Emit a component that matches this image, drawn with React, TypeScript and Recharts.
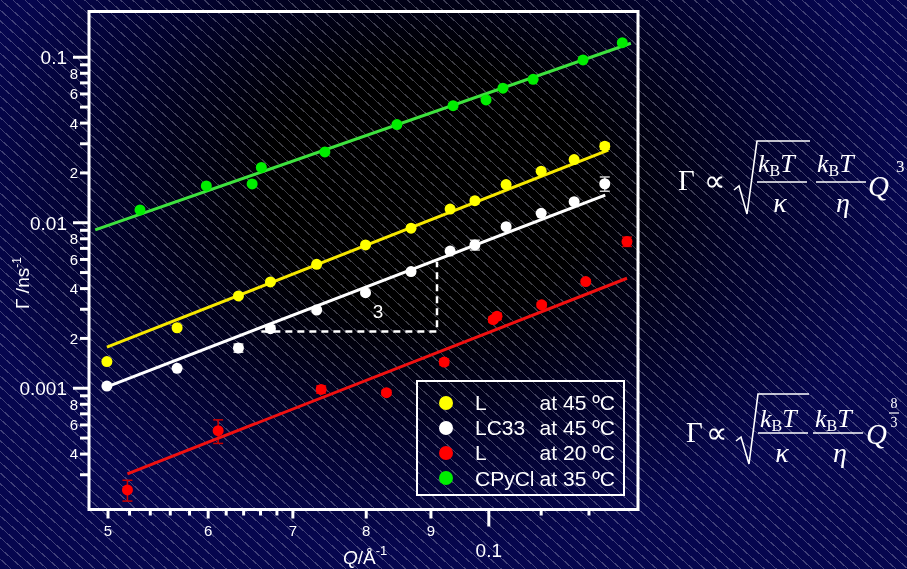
import { ComposedChart, Scatter, XAxis, YAxis, ErrorBar, ReferenceArea } from "recharts";

// axis ranges (log scales)
const Q_MIN = 0.0483;
const Q_MAX = 0.1312;
const G_MIN = 0.000185;
const G_MAX = 0.189;

// L at 45 ºC
const qYellow = [0.0499, 0.0567, 0.0634, 0.0672, 0.0731, 0.0799, 0.0868, 0.0932, 0.0975, 0.1032, 0.11, 0.1168, 0.1235];
const gYellow = [0.00145, 0.00232, 0.00361, 0.00439, 0.00561, 0.00734, 0.00927, 0.0121, 0.0136, 0.017, 0.0205, 0.0241, 0.029];
const errYellow = [0, 0, 0, 0, 0, 0, 0, 0, 0, 0, 0, 0, 0.0012];

// LC33 at 45 ºC
const qWhite = [0.0499, 0.0567, 0.0634, 0.0672, 0.0731, 0.0799, 0.0868, 0.0932, 0.0975, 0.1032, 0.11, 0.1168, 0.1235];
const gWhite = [0.00103, 0.00132, 0.00175, 0.00229, 0.00297, 0.00378, 0.00507, 0.00674, 0.00734, 0.00947, 0.0114, 0.0134, 0.0172];
const errWhite = [0, 0, 0.0001, 0.0001, 0, 0, 0, 0, 0.0005, 0, 0, 0, 0.0017];

// L at 20 ºC
const qRed = [0.0518, 0.0611, 0.0737, 0.083, 0.0922, 0.1008, 0.1015, 0.1101, 0.1193, 0.1286];
const gRed = [0.000243, 0.000554, 0.000983, 0.00094, 0.00144, 0.0026, 0.00272, 0.00319, 0.00441, 0.00769];
const errRed = [0.000035, 0.00009, 0.00005, 0.00003, 0.00006, 0.0001, 0.00012, 0.0001, 0.00012, 0.0005];

// CPyCl at 35 ºC
const qGreen = [0.053, 0.0598, 0.065, 0.0661, 0.0742, 0.0846, 0.0937, 0.0995, 0.1026, 0.1084, 0.1187, 0.1275];
const gGreen = [0.01195, 0.0167, 0.01716, 0.0216, 0.0268, 0.0392, 0.051, 0.0552, 0.065, 0.0736, 0.0963, 0.1225];

// fitted lines, end points
const fitGreenQ = [0.04885, 0.1295];
const fitGreenG = [0.00905, 0.1215];
const fitYellowQ = [0.0499, 0.1243];
const fitYellowG = [0.00177, 0.0275];
const fitWhiteQ = [0.0499, 0.1236];
const fitWhiteG = [0.00102, 0.0147];
const fitRedQ = [0.0518, 0.1286];
const fitRedG = [0.000304, 0.00462];

// slope 3 guide
const slopeQ = [0.0661, 0.091, 0.091];
const slopeG = [0.0022, 0.0022, 0.00582];

const xTicks = [0.05, 0.052, 0.054, 0.056, 0.058, 0.06, 0.062, 0.064, 0.066, 0.068, 0.07, 0.08, 0.09, 0.1, 0.11, 0.12];
const xLabelValues = [0.05, 0.06, 0.07, 0.08, 0.09, 0.1];
const xLabelTexts = ["5", "6", "7", "8", "9", "0.1"];

const yTicks = [
  0.0003, 0.0004, 0.0005, 0.0006, 0.0007, 0.0008, 0.0009,
  0.001, 0.002, 0.003, 0.004, 0.005, 0.006, 0.007, 0.008, 0.009,
  0.01, 0.02, 0.03, 0.04, 0.05, 0.06, 0.07, 0.08, 0.09, 0.1,
];
const yLabelValues = [0.1, 0.08, 0.06, 0.04, 0.02, 0.01, 0.008, 0.006, 0.004, 0.002, 0.001, 0.0008, 0.0006, 0.0004];
const yLabelTexts = ["0.1", "8", "6", "4", "2", "0.01", "8", "6", "4", "2", "0.001", "8", "6", "4"];
const majorValues = [0.1, 0.01, 0.001];

const legendNames = ["L", "LC33", "L", "CPyCl"];
const legendTemps = ["at 45 ºC", "at 45 ºC", "at 20 ºC", "at 35 ºC"];
const legendColors = ["#ffff00", "#ffffff", "#ff0000", "#00ee00"];

const toPoints = (q: number[], g: number[], err?: number[]) =>
  q.map((v, i) => ({ q: v, g: g[i], err: err && err[i] > 0 ? err[i] : null }));

const same = (a: number, b: number) => Math.abs(a - b) / b < 1e-6;
const SANS = "'Liberation Sans', Arial, sans-serif";
const SERIF = "'Liberation Serif', 'Times New Roman', serif";

const YTick = (props: any) => {
  const { x, y, payload } = props;
  const v = payload.value;
  const major = majorValues.some((m) => same(v, m));
  const idx = yLabelValues.findIndex((l) => same(v, l));
  return (
    <g>
      <line x1={x} y1={y} x2={x - (major ? 16 : 9)} y2={y} stroke="#fff" strokeWidth={3} />
      {idx >= 0 && (
        <text
          x={x - (major ? 22 : 11)}
          y={y}
          dy="0.36em"
          textAnchor="end"
          fill="#fff"
          fontSize={major ? 19 : 15}
          fontFamily={SANS}
        >
          {yLabelTexts[idx]}
        </text>
      )}
    </g>
  );
};

const XTick = (props: any) => {
  const { x, y, payload } = props;
  const v = payload.value;
  const major = majorValues.some((m) => same(v, m));
  const idx = xLabelValues.findIndex((l) => same(v, l));
  const len = major ? 17 : idx >= 0 ? 9 : 6;
  return (
    <g>
      <line x1={x} y1={y} x2={x} y2={y + len} stroke="#fff" strokeWidth={3} />
      {idx >= 0 && (
        <text
          x={x}
          y={y + (major ? 47 : 26)}
          textAnchor="middle"
          fill="#fff"
          fontSize={major ? 19 : 15}
          fontFamily={SANS}
        >
          {xLabelTexts[idx]}
        </text>
      )}
    </g>
  );
};

const dot = (color: string) => (p: any) => <circle cx={p.cx} cy={p.cy} r={5.5} fill={color} />;
const noDot = () => <g />;

const App = () => {
  return (
    <div
      style={{
        position: "fixed",
        left: 0,
        top: 0,
        width: 907,
        height: 569,
        overflow: "hidden",
        background:
          "repeating-linear-gradient(42deg, rgba(0,0,0,0) 0px, rgba(0,0,0,0) 7px, rgba(200,200,220,0.3) 7px, rgba(200,200,220,0.3) 8px), radial-gradient(ellipse 470px 360px at 430px 190px, #000 0%, #000 35%, #02022c 70%, #06064e 100%)",
      }}
    >
      <ComposedChart
        width={907}
        height={569}
        margin={{ top: 11.5, right: 269, bottom: 9.5, left: 9 }}
        style={{ position: "absolute", left: 0, top: 0 }}
      >
        <XAxis
          dataKey="q"
          type="number"
          scale="log"
          domain={[Q_MIN, Q_MAX]}
          allowDataOverflow
          ticks={xTicks}
          interval={0}
          tick={(p: any) => <XTick {...p} />}
          tickSize={0}
          tickMargin={0}
          axisLine={false}
          tickLine={false}
          height={50}
        />
        <YAxis
          dataKey="g"
          type="number"
          scale="log"
          domain={[G_MIN, G_MAX]}
          allowDataOverflow
          ticks={yTicks}
          interval={0}
          tick={(p: any) => <YTick {...p} />}
          tickSize={0}
          tickMargin={0}
          axisLine={false}
          tickLine={false}
          width={80}
        />
        <ReferenceArea
          x1={Q_MIN}
          x2={Q_MAX}
          y1={G_MIN}
          y2={G_MAX}
          stroke="#ffffff"
          strokeWidth={3}
          fill="none"
          fillOpacity={0}
          ifOverflow="visible"
        />
        <Scatter
          data={toPoints(slopeQ, slopeG)}
          line={{ stroke: "#ffffff", strokeWidth: 2.5, strokeDasharray: "7 5" }}
          shape={noDot}
          isAnimationActive={false}
        />
        <Scatter data={toPoints(fitGreenQ, fitGreenG)} line={{ stroke: "#3ee23e", strokeWidth: 3 }} shape={noDot} isAnimationActive={false} />
        <Scatter data={toPoints(fitYellowQ, fitYellowG)} line={{ stroke: "#f7e800", strokeWidth: 3 }} shape={noDot} isAnimationActive={false} />
        <Scatter data={toPoints(fitWhiteQ, fitWhiteG)} line={{ stroke: "#ffffff", strokeWidth: 3 }} shape={noDot} isAnimationActive={false} />
        <Scatter data={toPoints(fitRedQ, fitRedG)} line={{ stroke: "#f01010", strokeWidth: 3 }} shape={noDot} isAnimationActive={false} />

        <Scatter data={toPoints(qGreen, gGreen)} shape={dot("#00ee00")} isAnimationActive={false} />
        <Scatter data={toPoints(qYellow, gYellow, errYellow)} shape={dot("#ffff00")} isAnimationActive={false}>
          <ErrorBar dataKey="err" direction="y" width={5} stroke="#e8e000" strokeWidth={1.5} />
        </Scatter>
        <Scatter data={toPoints(qWhite, gWhite, errWhite)} shape={dot("#ffffff")} isAnimationActive={false}>
          <ErrorBar dataKey="err" direction="y" width={5} stroke="#cfcfcf" strokeWidth={1.5} />
        </Scatter>
        <Scatter data={toPoints(qRed, gRed, errRed)} shape={dot("#ff0000")} isAnimationActive={false}>
          <ErrorBar dataKey="err" direction="y" width={5} stroke="#c80000" strokeWidth={1.5} />
        </Scatter>
      </ComposedChart>

      {/* legend */}
      <div
        style={{
          position: "absolute",
          left: 416,
          top: 380,
          width: 209,
          height: 116,
          border: "2px solid #fff",
          boxSizing: "border-box",
          fontFamily: SANS,
          fontSize: 21,
          color: "#fff",
        }}
      >
        {legendNames.map((name, i) => (
          <div
            key={i}
            style={{ position: "absolute", left: 0, top: 8 + i * 25.2, width: 205, height: 25, lineHeight: "25px" }}
          >
            <span
              style={{
                position: "absolute",
                left: 21,
                top: 5.5,
                width: 14,
                height: 14,
                borderRadius: 7,
                background: legendColors[i],
              }}
            />
            <span style={{ position: "absolute", left: 57 }}>{name}</span>
            <span style={{ position: "absolute", right: 8 }}>{legendTemps[i]}</span>
          </div>
        ))}
      </div>

      <svg width={907} height={569} style={{ position: "absolute", left: 0, top: 0, pointerEvents: "none" }}>
        {/* axis titles */}
        <text x={343} y={564} fill="#fff" fontSize={19} fontFamily={SANS}>
          <tspan fontStyle="italic">Q</tspan>
          <tspan>/Å</tspan>
          <tspan fontSize={13} dy={-9}>-1</tspan>
        </text>
        <text transform="translate(29,283) rotate(-90)" textAnchor="middle" fill="#fff" fontSize={19} fontFamily={SANS}>
          <tspan>Γ /ns</tspan>
          <tspan fontSize={12} dy={-8}>-1</tspan>
        </text>
        <text x={378} y={318} textAnchor="middle" fill="#fff" fontSize={19} fontFamily={SANS}>
          3
        </text>

        {/* formula 1 */}
        <g fill="#fff" fontFamily={SERIF}>
          <text x={678} y={190} fontSize={29}>Γ</text>
          <text x={704} y={191} fontSize={30}>∝</text>
          <path d="M734 190 L739 186 L747 214 L757 141 L810 141" stroke="#fff" strokeWidth={1.6} fill="none" />
          <text x={758} y={172} fontSize={26}>
            <tspan fontStyle="italic">k</tspan>
            <tspan fontSize={16} dy={4}>B</tspan>
            <tspan fontStyle="italic" dy={-4}>T</tspan>
          </text>
          <line x1={757} y1={182} x2={807} y2={182} stroke="#fff" strokeWidth={1.6} />
          <text x={780} y={212} fontSize={28} fontStyle="italic" textAnchor="middle">κ</text>
          <text x={817} y={172} fontSize={26}>
            <tspan fontStyle="italic">k</tspan>
            <tspan fontSize={16} dy={4}>B</tspan>
            <tspan fontStyle="italic" dy={-4}>T</tspan>
          </text>
          <line x1={816} y1={182} x2={866} y2={182} stroke="#fff" strokeWidth={1.6} />
          <text x={843} y={212} fontSize={28} fontStyle="italic" textAnchor="middle">η</text>
          <text x={868} y={196} fontSize={29} fontStyle="italic">Q</text>
          <text x={896} y={172} fontSize={17}>3</text>
        </g>

        {/* formula 2 */}
        <g fill="#fff" fontFamily={SERIF}>
          <text x={686} y={442} fontSize={29}>Γ</text>
          <text x={706} y={443} fontSize={30}>∝</text>
          <path d="M736 441 L741 437 L749 464 L758 394 L809 394" stroke="#fff" strokeWidth={1.6} fill="none" />
          <text x={760} y={427} fontSize={26}>
            <tspan fontStyle="italic">k</tspan>
            <tspan fontSize={16} dy={4}>B</tspan>
            <tspan fontStyle="italic" dy={-4}>T</tspan>
          </text>
          <line x1={758} y1={433} x2={808} y2={433} stroke="#fff" strokeWidth={1.6} />
          <text x={782} y={462} fontSize={28} fontStyle="italic" textAnchor="middle">κ</text>
          <text x={815} y={427} fontSize={26}>
            <tspan fontStyle="italic">k</tspan>
            <tspan fontSize={16} dy={4}>B</tspan>
            <tspan fontStyle="italic" dy={-4}>T</tspan>
          </text>
          <line x1={813} y1={433} x2={863} y2={433} stroke="#fff" strokeWidth={1.6} />
          <text x={840} y={462} fontSize={28} fontStyle="italic" textAnchor="middle">η</text>
          <text x={866} y={444} fontSize={29} fontStyle="italic">Q</text>
          <text x={894} y={408} fontSize={14} textAnchor="middle">8</text>
          <line x1={889} y1={413} x2={899} y2={413} stroke="#fff" strokeWidth={1.2} />
          <text x={894} y={427} fontSize={14} textAnchor="middle">3</text>
        </g>
      </svg>
    </div>
  );
};

export default App;
